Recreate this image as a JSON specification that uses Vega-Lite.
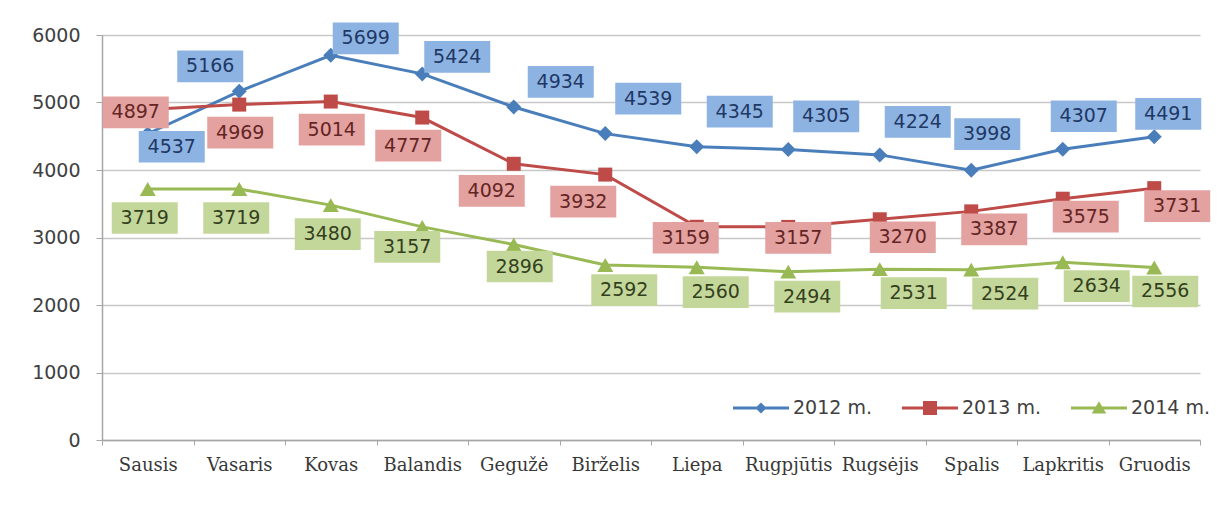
{
  "$schema": "https://vega.github.io/schema/vega-lite/v6.json",
  "width": 1098,
  "height": 405,
  "autosize": {"type": "none"},
  "padding": {"left": 102, "top": 35, "right": 19, "bottom": 91},
  "background": "white",
  "config": {"view": {"stroke": null}},
  "data": {"values": [
    {"month": "Sausis", "series": "2012 m.", "value": 4537},
    {"month": "Vasaris", "series": "2012 m.", "value": 5166},
    {"month": "Kovas", "series": "2012 m.", "value": 5699},
    {"month": "Balandis", "series": "2012 m.", "value": 5424},
    {"month": "Gegužė", "series": "2012 m.", "value": 4934},
    {"month": "Birželis", "series": "2012 m.", "value": 4539},
    {"month": "Liepa", "series": "2012 m.", "value": 4345},
    {"month": "Rugpjūtis", "series": "2012 m.", "value": 4305},
    {"month": "Rugsėjis", "series": "2012 m.", "value": 4224},
    {"month": "Spalis", "series": "2012 m.", "value": 3998},
    {"month": "Lapkritis", "series": "2012 m.", "value": 4307},
    {"month": "Gruodis", "series": "2012 m.", "value": 4491},
    {"month": "Sausis", "series": "2013 m.", "value": 4897},
    {"month": "Vasaris", "series": "2013 m.", "value": 4969},
    {"month": "Kovas", "series": "2013 m.", "value": 5014},
    {"month": "Balandis", "series": "2013 m.", "value": 4777},
    {"month": "Gegužė", "series": "2013 m.", "value": 4092},
    {"month": "Birželis", "series": "2013 m.", "value": 3932},
    {"month": "Liepa", "series": "2013 m.", "value": 3159},
    {"month": "Rugpjūtis", "series": "2013 m.", "value": 3157},
    {"month": "Rugsėjis", "series": "2013 m.", "value": 3270},
    {"month": "Spalis", "series": "2013 m.", "value": 3387},
    {"month": "Lapkritis", "series": "2013 m.", "value": 3575},
    {"month": "Gruodis", "series": "2013 m.", "value": 3731},
    {"month": "Sausis", "series": "2014 m.", "value": 3719},
    {"month": "Vasaris", "series": "2014 m.", "value": 3719},
    {"month": "Kovas", "series": "2014 m.", "value": 3480},
    {"month": "Balandis", "series": "2014 m.", "value": 3157},
    {"month": "Gegužė", "series": "2014 m.", "value": 2896},
    {"month": "Birželis", "series": "2014 m.", "value": 2592},
    {"month": "Liepa", "series": "2014 m.", "value": 2560},
    {"month": "Rugpjūtis", "series": "2014 m.", "value": 2494},
    {"month": "Rugsėjis", "series": "2014 m.", "value": 2531},
    {"month": "Spalis", "series": "2014 m.", "value": 2524},
    {"month": "Lapkritis", "series": "2014 m.", "value": 2634},
    {"month": "Gruodis", "series": "2014 m.", "value": 2556}
  ]},
  "encoding": {
    "x": {
      "field": "month", "type": "nominal",
      "sort": ["Sausis", "Vasaris", "Kovas", "Balandis", "Gegužė", "Birželis", "Liepa", "Rugpjūtis", "Rugsėjis", "Spalis", "Lapkritis", "Gruodis"],
      "scale": {"type": "band", "paddingInner": 0, "paddingOuter": 0},
      "bandPosition": 0.5,
      "axis": {"title": null, "tickBand": "extent", "labelAngle": 0, "labelFont": "DejaVu Serif", "labelFontSize": 18, "labelColor": "#383838", "labelPadding": 11, "tickSize": 5, "tickColor": "#A6A6A6", "domainColor": "#A6A6A6", "domainWidth": 1.5, "grid": false}
    },
    "y": {
      "field": "value", "type": "quantitative",
      "scale": {"domain": [0, 6000], "nice": false},
      "axis": {"title": null, "format": "d", "values": [0, 1000, 2000, 3000, 4000, 5000, 6000], "labelFont": "DejaVu Sans", "labelFontSize": 19, "labelColor": "#404040", "labelPadding": 16, "tickSize": 6, "tickColor": "#A6A6A6", "domainColor": "#A6A6A6", "domainWidth": 1.5, "gridColor": "#C8C8C8", "gridWidth": 1.5}
    }
  },
  "layer": [
    {
      "transform": [{"filter": {"field": "month", "equal": "Sausis"}}],
      "mark": {"type": "point", "filled": true, "opacity": 0},
      "encoding": {
        "color": {"field": "series", "type": "nominal", "scale": {"domain": ["2012 m.", "2013 m.", "2014 m."], "range": ["#4A7EBB", "#BE4B48", "#98B954"]},
          "legend": {"orient": "none", "legendX": 631, "legendY": 345, "direction": "horizontal", "title": null, "symbolSize": 3136, "symbolOpacity": 1, "symbolStrokeWidth": 0, "labelFont": "DejaVu Sans", "labelFontSize": 19, "labelColor": "#404040", "labelOffset": 4, "columnPadding": 30}},
        "shape": {"field": "series", "type": "nominal", "scale": {"domain": ["2012 m.", "2013 m.", "2014 m."], "range": [
          "M-1,-0.054H1V0.054H-1ZM0,-0.2L0.2,0L0,0.2L-0.2,0Z",
          "M-1,-0.054H1V0.054H-1ZM-0.25,-0.25H0.25V0.25H-0.25Z",
          "M-1,-0.054H1V0.054H-1ZM0,-0.24L0.26,0.2H-0.26Z"]},
          "legend": {"orient": "none", "legendX": 631, "legendY": 345, "direction": "horizontal", "title": null, "symbolSize": 3136, "symbolOpacity": 1, "symbolStrokeWidth": 0, "labelFont": "DejaVu Sans", "labelFontSize": 19, "labelColor": "#404040", "labelOffset": 4, "columnPadding": 30}}
      }
    },
    {
      "mark": {"type": "line", "strokeWidth": 3},
      "encoding": {"stroke": {"field": "series", "type": "nominal", "scale": {"domain": ["2012 m.", "2013 m.", "2014 m."], "range": ["#4A7EBB", "#BE4B48", "#98B954"]}, "legend": null}}
    },
    {"transform": [{"filter": {"field": "series", "equal": "2012 m."}}], "mark": {"type": "point", "shape": "diamond", "size": 225, "filled": true, "color": "#4A7EBB", "opacity": 1}},
    {"transform": [{"filter": {"field": "series", "equal": "2013 m."}}], "mark": {"type": "point", "shape": "square", "size": 196, "filled": true, "color": "#BE4B48", "opacity": 1}},
    {"transform": [{"filter": {"field": "series", "equal": "2014 m."}}], "mark": {"type": "point", "shape": "triangle-up", "size": 256, "filled": true, "color": "#98B954", "opacity": 1}},

    {"transform": [{"filter": {"and": [{"field": "series", "equal": "2012 m."}, {"field": "month", "oneOf": ["Sausis"]}]}}], "layer": [
      {"mark": {"type": "point", "shape": "M-1,-0.48H1V0.48H-1Z", "size": 4356, "filled": true, "color": "#8DB3E2", "opacity": 1, "xOffset": 24, "yOffset": 13}},
      {"mark": {"type": "text", "font": "DejaVu Sans", "fontSize": 19, "color": "#1F3864", "baseline": "middle", "dx": 24, "dy": 13}, "encoding": {"text": {"field": "value", "type": "quantitative", "format": "d"}}}]},
    {"transform": [{"filter": {"and": [{"field": "series", "equal": "2012 m."}, {"field": "month", "oneOf": ["Vasaris"]}]}}], "layer": [
      {"mark": {"type": "point", "shape": "M-1,-0.48H1V0.48H-1Z", "size": 4356, "filled": true, "color": "#8DB3E2", "opacity": 1, "xOffset": -29, "yOffset": -25}},
      {"mark": {"type": "text", "font": "DejaVu Sans", "fontSize": 19, "color": "#1F3864", "baseline": "middle", "dx": -29, "dy": -25}, "encoding": {"text": {"field": "value", "type": "quantitative", "format": "d"}}}]},
    {"transform": [{"filter": {"and": [{"field": "series", "equal": "2012 m."}, {"field": "month", "oneOf": ["Kovas", "Balandis"]}]}}], "layer": [
      {"mark": {"type": "point", "shape": "M-1,-0.48H1V0.48H-1Z", "size": 4356, "filled": true, "color": "#8DB3E2", "opacity": 1, "xOffset": 35, "yOffset": -17}},
      {"mark": {"type": "text", "font": "DejaVu Sans", "fontSize": 19, "color": "#1F3864", "baseline": "middle", "dx": 35, "dy": -17}, "encoding": {"text": {"field": "value", "type": "quantitative", "format": "d"}}}]},
    {"transform": [{"filter": {"and": [{"field": "series", "equal": "2012 m."}, {"field": "month", "oneOf": ["Gegužė"]}]}}], "layer": [
      {"mark": {"type": "point", "shape": "M-1,-0.48H1V0.48H-1Z", "size": 4356, "filled": true, "color": "#8DB3E2", "opacity": 1, "xOffset": 47, "yOffset": -25}},
      {"mark": {"type": "text", "font": "DejaVu Sans", "fontSize": 19, "color": "#1F3864", "baseline": "middle", "dx": 47, "dy": -25}, "encoding": {"text": {"field": "value", "type": "quantitative", "format": "d"}}}]},
    {"transform": [{"filter": {"and": [{"field": "series", "equal": "2012 m."}, {"field": "month", "oneOf": ["Birželis", "Liepa"]}]}}], "layer": [
      {"mark": {"type": "point", "shape": "M-1,-0.48H1V0.48H-1Z", "size": 4356, "filled": true, "color": "#8DB3E2", "opacity": 1, "xOffset": 43, "yOffset": -35}},
      {"mark": {"type": "text", "font": "DejaVu Sans", "fontSize": 19, "color": "#1F3864", "baseline": "middle", "dx": 43, "dy": -35}, "encoding": {"text": {"field": "value", "type": "quantitative", "format": "d"}}}]},
    {"transform": [{"filter": {"and": [{"field": "series", "equal": "2012 m."}, {"field": "month", "oneOf": ["Rugpjūtis", "Rugsėjis"]}]}}], "layer": [
      {"mark": {"type": "point", "shape": "M-1,-0.48H1V0.48H-1Z", "size": 4356, "filled": true, "color": "#8DB3E2", "opacity": 1, "xOffset": 38, "yOffset": -33}},
      {"mark": {"type": "text", "font": "DejaVu Sans", "fontSize": 19, "color": "#1F3864", "baseline": "middle", "dx": 38, "dy": -33}, "encoding": {"text": {"field": "value", "type": "quantitative", "format": "d"}}}]},
    {"transform": [{"filter": {"and": [{"field": "series", "equal": "2012 m."}, {"field": "month", "oneOf": ["Spalis"]}]}}], "layer": [
      {"mark": {"type": "point", "shape": "M-1,-0.48H1V0.48H-1Z", "size": 4356, "filled": true, "color": "#8DB3E2", "opacity": 1, "xOffset": 16, "yOffset": -36}},
      {"mark": {"type": "text", "font": "DejaVu Sans", "fontSize": 19, "color": "#1F3864", "baseline": "middle", "dx": 16, "dy": -36}, "encoding": {"text": {"field": "value", "type": "quantitative", "format": "d"}}}]},
    {"transform": [{"filter": {"and": [{"field": "series", "equal": "2012 m."}, {"field": "month", "oneOf": ["Lapkritis"]}]}}], "layer": [
      {"mark": {"type": "point", "shape": "M-1,-0.48H1V0.48H-1Z", "size": 4356, "filled": true, "color": "#8DB3E2", "opacity": 1, "xOffset": 21, "yOffset": -33}},
      {"mark": {"type": "text", "font": "DejaVu Sans", "fontSize": 19, "color": "#1F3864", "baseline": "middle", "dx": 21, "dy": -33}, "encoding": {"text": {"field": "value", "type": "quantitative", "format": "d"}}}]},
    {"transform": [{"filter": {"and": [{"field": "series", "equal": "2012 m."}, {"field": "month", "oneOf": ["Gruodis"]}]}}], "layer": [
      {"mark": {"type": "point", "shape": "M-1,-0.48H1V0.48H-1Z", "size": 4356, "filled": true, "color": "#8DB3E2", "opacity": 1, "xOffset": 14, "yOffset": -23}},
      {"mark": {"type": "text", "font": "DejaVu Sans", "fontSize": 19, "color": "#1F3864", "baseline": "middle", "dx": 14, "dy": -23}, "encoding": {"text": {"field": "value", "type": "quantitative", "format": "d"}}}]},

    {"transform": [{"filter": {"and": [{"field": "series", "equal": "2013 m."}, {"field": "month", "oneOf": ["Sausis"]}]}}], "layer": [
      {"mark": {"type": "point", "shape": "M-1,-0.48H1V0.48H-1Z", "size": 4356, "filled": true, "color": "#E3A1A0", "opacity": 1, "xOffset": -12, "yOffset": 3}},
      {"mark": {"type": "text", "font": "DejaVu Sans", "fontSize": 19, "color": "#632523", "baseline": "middle", "dx": -12, "dy": 3}, "encoding": {"text": {"field": "value", "type": "quantitative", "format": "d"}}}]},
    {"transform": [{"filter": {"and": [{"field": "series", "equal": "2013 m."}, {"field": "month", "oneOf": ["Vasaris", "Kovas"]}]}}], "layer": [
      {"mark": {"type": "point", "shape": "M-1,-0.48H1V0.48H-1Z", "size": 4356, "filled": true, "color": "#E3A1A0", "opacity": 1, "xOffset": 1, "yOffset": 28}},
      {"mark": {"type": "text", "font": "DejaVu Sans", "fontSize": 19, "color": "#632523", "baseline": "middle", "dx": 1, "dy": 28}, "encoding": {"text": {"field": "value", "type": "quantitative", "format": "d"}}}]},
    {"transform": [{"filter": {"and": [{"field": "series", "equal": "2013 m."}, {"field": "month", "oneOf": ["Balandis"]}]}}], "layer": [
      {"mark": {"type": "point", "shape": "M-1,-0.48H1V0.48H-1Z", "size": 4356, "filled": true, "color": "#E3A1A0", "opacity": 1, "xOffset": -14, "yOffset": 28}},
      {"mark": {"type": "text", "font": "DejaVu Sans", "fontSize": 19, "color": "#632523", "baseline": "middle", "dx": -14, "dy": 28}, "encoding": {"text": {"field": "value", "type": "quantitative", "format": "d"}}}]},
    {"transform": [{"filter": {"and": [{"field": "series", "equal": "2013 m."}, {"field": "month", "oneOf": ["Gegužė", "Birželis"]}]}}], "layer": [
      {"mark": {"type": "point", "shape": "M-1,-0.48H1V0.48H-1Z", "size": 4356, "filled": true, "color": "#E3A1A0", "opacity": 1, "xOffset": -22, "yOffset": 27}},
      {"mark": {"type": "text", "font": "DejaVu Sans", "fontSize": 19, "color": "#632523", "baseline": "middle", "dx": -22, "dy": 27}, "encoding": {"text": {"field": "value", "type": "quantitative", "format": "d"}}}]},
    {"transform": [{"filter": {"and": [{"field": "series", "equal": "2013 m."}, {"field": "month", "oneOf": ["Liepa"]}]}}], "layer": [
      {"mark": {"type": "point", "shape": "M-1,-0.48H1V0.48H-1Z", "size": 4356, "filled": true, "color": "#E3A1A0", "opacity": 1, "xOffset": -11, "yOffset": 11}},
      {"mark": {"type": "text", "font": "DejaVu Sans", "fontSize": 19, "color": "#632523", "baseline": "middle", "dx": -11, "dy": 11}, "encoding": {"text": {"field": "value", "type": "quantitative", "format": "d"}}}]},
    {"transform": [{"filter": {"and": [{"field": "series", "equal": "2013 m."}, {"field": "month", "oneOf": ["Rugpjūtis"]}]}}], "layer": [
      {"mark": {"type": "point", "shape": "M-1,-0.48H1V0.48H-1Z", "size": 4356, "filled": true, "color": "#E3A1A0", "opacity": 1, "xOffset": 10, "yOffset": 11}},
      {"mark": {"type": "text", "font": "DejaVu Sans", "fontSize": 19, "color": "#632523", "baseline": "middle", "dx": 10, "dy": 11}, "encoding": {"text": {"field": "value", "type": "quantitative", "format": "d"}}}]},
    {"transform": [{"filter": {"and": [{"field": "series", "equal": "2013 m."}, {"field": "month", "oneOf": ["Rugsėjis", "Spalis", "Lapkritis", "Gruodis"]}]}}], "layer": [
      {"mark": {"type": "point", "shape": "M-1,-0.48H1V0.48H-1Z", "size": 4356, "filled": true, "color": "#E3A1A0", "opacity": 1, "xOffset": 23, "yOffset": 18}},
      {"mark": {"type": "text", "font": "DejaVu Sans", "fontSize": 19, "color": "#632523", "baseline": "middle", "dx": 23, "dy": 18}, "encoding": {"text": {"field": "value", "type": "quantitative", "format": "d"}}}]},

    {"transform": [{"filter": {"and": [{"field": "series", "equal": "2014 m."}, {"field": "month", "oneOf": ["Sausis", "Vasaris", "Kovas"]}]}}], "layer": [
      {"mark": {"type": "point", "shape": "M-1,-0.48H1V0.48H-1Z", "size": 4356, "filled": true, "color": "#C4D79B", "opacity": 1, "xOffset": -3, "yOffset": 29}},
      {"mark": {"type": "text", "font": "DejaVu Sans", "fontSize": 19, "color": "#33401C", "baseline": "middle", "dx": -3, "dy": 29}, "encoding": {"text": {"field": "value", "type": "quantitative", "format": "d"}}}]},
    {"transform": [{"filter": {"and": [{"field": "series", "equal": "2014 m."}, {"field": "month", "oneOf": ["Balandis"]}]}}], "layer": [
      {"mark": {"type": "point", "shape": "M-1,-0.48H1V0.48H-1Z", "size": 4356, "filled": true, "color": "#C4D79B", "opacity": 1, "xOffset": -15, "yOffset": 20}},
      {"mark": {"type": "text", "font": "DejaVu Sans", "fontSize": 19, "color": "#33401C", "baseline": "middle", "dx": -15, "dy": 20}, "encoding": {"text": {"field": "value", "type": "quantitative", "format": "d"}}}]},
    {"transform": [{"filter": {"and": [{"field": "series", "equal": "2014 m."}, {"field": "month", "oneOf": ["Gegužė"]}]}}], "layer": [
      {"mark": {"type": "point", "shape": "M-1,-0.48H1V0.48H-1Z", "size": 4356, "filled": true, "color": "#C4D79B", "opacity": 1, "xOffset": 6, "yOffset": 22}},
      {"mark": {"type": "text", "font": "DejaVu Sans", "fontSize": 19, "color": "#33401C", "baseline": "middle", "dx": 6, "dy": 22}, "encoding": {"text": {"field": "value", "type": "quantitative", "format": "d"}}}]},
    {"transform": [{"filter": {"and": [{"field": "series", "equal": "2014 m."}, {"field": "month", "oneOf": ["Birželis", "Liepa", "Rugpjūtis"]}]}}], "layer": [
      {"mark": {"type": "point", "shape": "M-1,-0.48H1V0.48H-1Z", "size": 4356, "filled": true, "color": "#C4D79B", "opacity": 1, "xOffset": 19, "yOffset": 25}},
      {"mark": {"type": "text", "font": "DejaVu Sans", "fontSize": 19, "color": "#33401C", "baseline": "middle", "dx": 19, "dy": 25}, "encoding": {"text": {"field": "value", "type": "quantitative", "format": "d"}}}]},
    {"transform": [{"filter": {"and": [{"field": "series", "equal": "2014 m."}, {"field": "month", "oneOf": ["Rugsėjis", "Spalis", "Lapkritis"]}]}}], "layer": [
      {"mark": {"type": "point", "shape": "M-1,-0.48H1V0.48H-1Z", "size": 4356, "filled": true, "color": "#C4D79B", "opacity": 1, "xOffset": 34, "yOffset": 24}},
      {"mark": {"type": "text", "font": "DejaVu Sans", "fontSize": 19, "color": "#33401C", "baseline": "middle", "dx": 34, "dy": 24}, "encoding": {"text": {"field": "value", "type": "quantitative", "format": "d"}}}]},
    {"transform": [{"filter": {"and": [{"field": "series", "equal": "2014 m."}, {"field": "month", "oneOf": ["Gruodis"]}]}}], "layer": [
      {"mark": {"type": "point", "shape": "M-1,-0.48H1V0.48H-1Z", "size": 4356, "filled": true, "color": "#C4D79B", "opacity": 1, "xOffset": 11, "yOffset": 24}},
      {"mark": {"type": "text", "font": "DejaVu Sans", "fontSize": 19, "color": "#33401C", "baseline": "middle", "dx": 11, "dy": 24}, "encoding": {"text": {"field": "value", "type": "quantitative", "format": "d"}}}]}
  ]
}
